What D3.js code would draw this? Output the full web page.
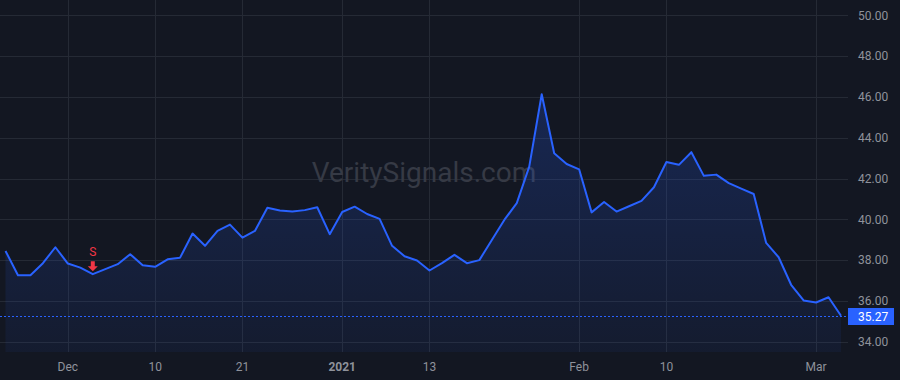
<!DOCTYPE html>
<html>
<head>
<meta charset="utf-8">
<script src="https://cdn.jsdelivr.net/npm/d3@7"></script>
<style>
  html, body { margin: 0; padding: 0; background: #131722; }
  svg { display: block; }
  text { font-family: Roboto, "Liberation Sans", sans-serif; }
</style>
</head>
<body>
<div id="chart"></div>
<script>
// trading days, Nov 23 2020 -> Mar 3 2021
const dates = [
  "2020-11-23", "2020-11-24", "2020-11-25", "2020-11-27", "2020-11-30",
  "2020-12-01", "2020-12-02", "2020-12-03", "2020-12-04", "2020-12-07",
  "2020-12-08", "2020-12-09", "2020-12-10", "2020-12-11", "2020-12-14",
  "2020-12-15", "2020-12-16", "2020-12-17", "2020-12-18", "2020-12-21",
  "2020-12-22", "2020-12-23", "2020-12-24", "2020-12-28", "2020-12-29",
  "2020-12-30", "2020-12-31", "2021-01-04", "2021-01-05", "2021-01-06",
  "2021-01-07", "2021-01-08", "2021-01-11", "2021-01-12", "2021-01-13",
  "2021-01-14", "2021-01-15", "2021-01-19", "2021-01-20", "2021-01-21",
  "2021-01-22", "2021-01-25", "2021-01-26", "2021-01-27", "2021-01-28",
  "2021-01-29", "2021-02-01", "2021-02-02", "2021-02-03", "2021-02-04",
  "2021-02-05", "2021-02-08", "2021-02-09", "2021-02-10", "2021-02-11",
  "2021-02-12", "2021-02-16", "2021-02-17", "2021-02-18", "2021-02-19",
  "2021-02-22", "2021-02-23", "2021-02-24", "2021-02-25", "2021-02-26",
  "2021-03-01", "2021-03-02", "2021-03-03"
];

const closes = [
  38.45, 37.26, 37.26, 37.85, 38.63,
  37.83, 37.63, 37.31, 37.56, 37.80,
  38.29, 37.75, 37.67, 38.04, 38.12,
  39.30, 38.70, 39.43, 39.74, 39.10,
  39.43, 40.57, 40.43, 40.38, 40.45,
  40.59, 39.27, 40.36, 40.62, 40.26,
  40.02, 38.70, 38.19, 37.98, 37.49,
  37.85, 38.26, 37.85, 38.00, 38.99,
  39.97, 40.79, 42.58, 46.13, 43.24,
  42.71, 42.45, 40.34, 40.85, 40.38,
  40.64, 40.90, 41.57, 42.81, 42.67,
  43.29, 42.13, 42.19, 41.77, 41.50,
  41.24, 38.84, 38.14, 36.79, 36.02,
  35.92, 36.18, 35.27
];

const xTickDates = ["2020-12-01", "2020-12-10", "2020-12-21", "2021-01-04", "2021-01-13", "2021-02-01", "2021-02-10", "2021-03-01"];
const xTickLabels = ["Dec", "10", "21", "2021", "13", "Feb", "10", "Mar"];
const yTicks = [34, 36, 38, 40, 42, 44, 46, 48, 50];

const signalDates = ["2020-12-03"];
const signalLabels = ["S"];

const width = 900, height = 380;
const plotRight = 848, plotBottom = 352;

const svg = d3.select("#chart").append("svg")
  .attr("width", width)
  .attr("height", height);

svg.append("rect").attr("width", width).attr("height", height).attr("fill", "#131722");

const x = d3.scalePoint()
  .domain(dates)
  .range([5.5, 841]);

const y = d3.scaleLinear()
  .domain([34, 50])
  .range([341.7, 15.3]);

const data = dates.map((d, i) => ({ date: d, value: closes[i] }));

// grid
svg.append("g")
  .selectAll("line")
  .data(yTicks)
  .join("line")
  .attr("x1", 0).attr("x2", plotRight)
  .attr("y1", d => Math.round(y(d)) + 0.5)
  .attr("y2", d => Math.round(y(d)) + 0.5)
  .attr("stroke", "#252a35");

svg.append("g")
  .selectAll("line")
  .data(xTickDates)
  .join("line")
  .attr("x1", d => Math.round(x(d)) + 0.5)
  .attr("x2", d => Math.round(x(d)) + 0.5)
  .attr("y1", 0).attr("y2", plotBottom)
  .attr("stroke", "#252a35");

// watermark
svg.append("text")
  .attr("x", plotRight / 2)
  .attr("y", 182)
  .attr("text-anchor", "middle")
  .attr("font-size", 28)
  .attr("fill", "#363a45")
  .text("VeritySignals.com");

// area
const grad = svg.append("defs").append("linearGradient")
  .attr("id", "fillGrad")
  .attr("x1", 0).attr("y1", 0).attr("x2", 0).attr("y2", 1);
grad.append("stop").attr("offset", "0%").attr("stop-color", "#2962ff").attr("stop-opacity", 0.22);
grad.append("stop").attr("offset", "100%").attr("stop-color", "#2962ff").attr("stop-opacity", 0.06);

const area = d3.area()
  .x(d => x(d.date))
  .y0(plotBottom)
  .y1(d => y(d.value));

svg.append("path")
  .datum(data)
  .attr("fill", "url(#fillGrad)")
  .attr("d", area);

const line = d3.line()
  .x(d => x(d.date))
  .y(d => y(d.value));

svg.append("path")
  .datum(data)
  .attr("fill", "none")
  .attr("stroke", "#2962ff")
  .attr("stroke-width", 2)
  .attr("stroke-linejoin", "round")
  .attr("d", line);

// last price line
const last = closes[closes.length - 1];
svg.append("line")
  .attr("x1", 0).attr("x2", plotRight)
  .attr("y1", Math.round(y(last)) + 0.5)
  .attr("y2", Math.round(y(last)) + 0.5)
  .attr("stroke", "#2962ff")
  .attr("stroke-dasharray", "2,2");

// signals
signalDates.forEach((d, i) => {
  const sx = x(d);
  const sy = y(closes[dates.indexOf(d)]);
  const tip = sy - 3;
  svg.append("path")
    .attr("d", `M${sx - 2},${tip - 10} L${sx + 2},${tip - 10} L${sx + 2},${tip - 5} L${sx + 5},${tip - 5} L${sx},${tip} L${sx - 5},${tip - 5} L${sx - 2},${tip - 5} Z`)
    .attr("fill", "#f23645");
  svg.append("text")
    .attr("x", sx)
    .attr("y", tip - 15)
    .attr("text-anchor", "middle")
    .attr("font-size", 12)
    .attr("fill", "#f23645")
    .text(signalLabels[i]);
});

// y axis labels
svg.append("g")
  .selectAll("text")
  .data(yTicks)
  .join("text")
  .attr("x", 858)
  .attr("y", d => y(d))
  .attr("dy", "0.35em")
  .attr("font-size", 12)
  .attr("fill", "#8f929b")
  .text(d => d.toFixed(2));

// price label
svg.append("rect")
  .attr("x", plotRight)
  .attr("y", Math.round(y(last)) - 8)
  .attr("width", 46)
  .attr("height", 17)
  .attr("fill", "#2962ff");
svg.append("text")
  .attr("x", 858)
  .attr("y", Math.round(y(last)) + 0.5)
  .attr("dy", "0.35em")
  .attr("font-size", 12)
  .attr("fill", "#ffffff")
  .text(last.toFixed(2));

// x axis labels
svg.append("g")
  .selectAll("text")
  .data(xTickDates)
  .join("text")
  .attr("x", d => x(d))
  .attr("y", 367)
  .attr("dy", "0.35em")
  .attr("text-anchor", "middle")
  .attr("font-size", 12)
  .attr("font-weight", (d, i) => xTickLabels[i] === "2021" ? "bold" : "normal")
  .attr("fill", "#8f929b")
  .text((d, i) => xTickLabels[i]);
</script>
</body>
</html>
